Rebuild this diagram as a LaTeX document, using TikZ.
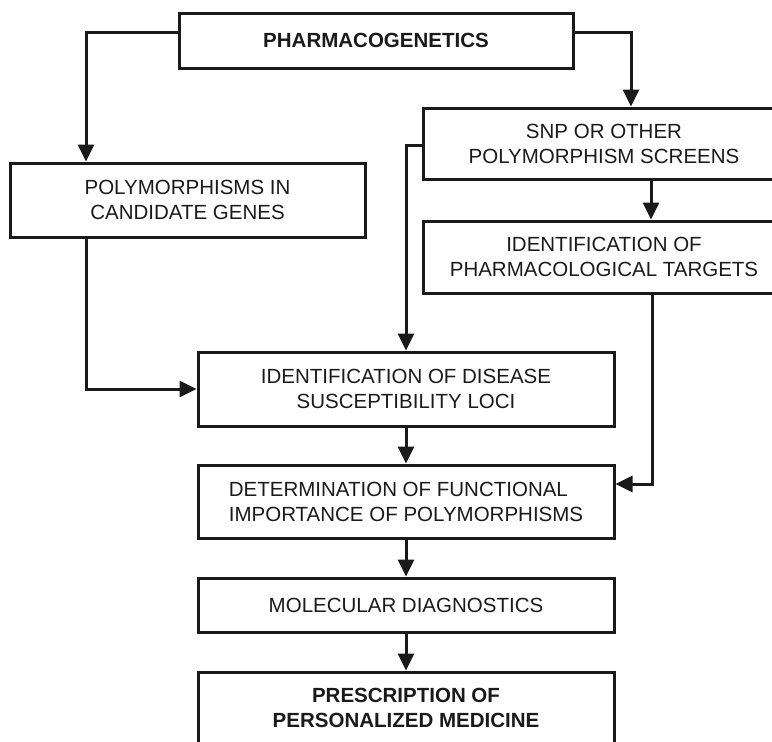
\documentclass[tikz,border=0pt]{standalone}
\usepackage{fontspec}
\setmainfont{Liberation Sans}
\usepackage{xcolor}
\usepackage{tikz}
\usetikzlibrary{positioning, arrows.meta, shapes}

\definecolor{inkgrey}{HTML}{1A1A1A}

\tikzset{
    stepbox/.style={draw=inkgrey, line width=3pt, rectangle, inner sep=0pt,
        text=inkgrey, align=center, font=\fontsize{20.5}{25}\selectfont},
    flow/.style={draw=inkgrey, line width=3pt, -{Triangle[length=17pt, width=16pt]}}
}

\begin{document}
\begin{tikzpicture}[x=1pt, y=-1pt]
    \useasboundingbox (0,0) rectangle (772,742);
    \clip (0,0) rectangle (772,742);

    % Boxes
    \node[stepbox, minimum width=394pt, minimum height=55pt] (pharma) at (376,40.5) {\textbf{PHARMACOGENETICS}};
    \node[stepbox, minimum width=355pt, minimum height=74pt] (poly) at (187.5,200) {POLYMORPHISMS IN\\CANDIDATE GENES};
    \node[stepbox, minimum width=362pt, minimum height=71pt] (snp) at (604,143.5) {SNP OR OTHER\\POLYMORPHISM SCREENS};
    \node[stepbox, minimum width=362pt, minimum height=72pt] (target) at (604,257) {IDENTIFICATION OF\\PHARMACOLOGICAL TARGETS};
    \node[stepbox, minimum width=416pt, minimum height=74pt] (disease) at (406,389) {IDENTIFICATION OF DISEASE\\SUSCEPTIBILITY LOCI};
    \node[stepbox, align=left, minimum width=416pt, minimum height=73pt] (funct) at (406,501.5) {DETERMINATION OF FUNCTIONAL\\IMPORTANCE OF POLYMORPHISMS};
    \node[stepbox, minimum width=416pt, minimum height=54pt] (moldiag) at (406,605) {MOLECULAR DIAGNOSTICS};
    \node[stepbox, minimum width=416pt, minimum height=72pt] (presc) at (406,708) {\textbf{PRESCRIPTION OF}\\\textbf{PERSONALIZED MEDICINE}};

    % Bends of the connectors
    \coordinate (pl) at (86,32);
    \coordinate (pr) at (631,32);
    \coordinate (sl) at (406,145);
    \coordinate (tx) at (651,0);
    \coordinate (tr) at (652,484);

    % Connectors
    \draw[flow] (pharma.west |- pl) -- (pl) -- (poly.north -| pl);
    \draw[flow] (pharma.east |- pr) -- (pr) -- (snp.north -| pr);
    \draw[flow] (snp.west |- sl) -- (sl) -- (disease.north);
    \draw[flow] (snp.south -| tx) -- (target.north -| tx);
    \draw[flow] (poly.south -| pl) |- (disease.west);
    \draw[flow] (target.south -| tr) -- (tr) -- (funct.east |- tr);
    \draw[flow] (disease) -- (funct);
    \draw[flow] (funct) -- (moldiag);
    \draw[flow] (moldiag) -- (presc);
\end{tikzpicture}
\end{document}
